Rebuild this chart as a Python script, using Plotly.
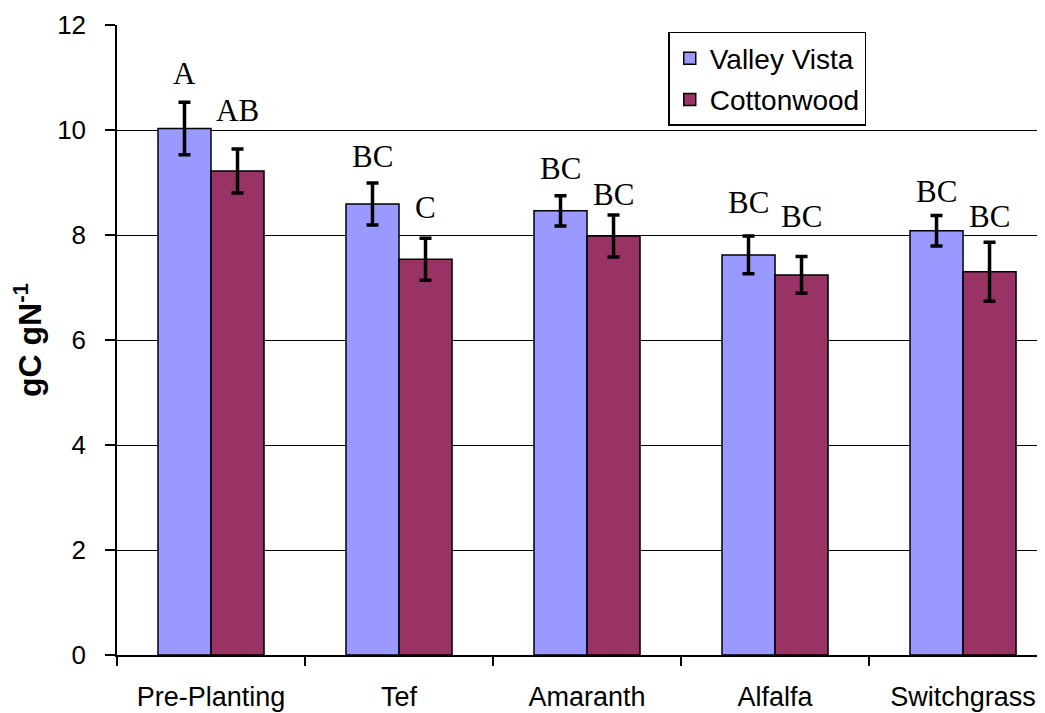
import plotly.graph_objects as go

categories = ["Pre-Planting", "Tef", "Amaranth", "Alfalfa", "Switchgrass"]
valley_vista = [10.03, 8.59, 8.46, 7.62, 8.08]
valley_vista_err = [0.50, 0.40, 0.29, 0.36, 0.29]
cottonwood = [9.22, 7.54, 7.98, 7.24, 7.30]
cottonwood_err = [0.42, 0.40, 0.40, 0.35, 0.56]
vv_letters = ["A", "BC", "BC", "BC", "BC"]
cw_letters = ["AB", "C", "BC", "BC", "BC"]
vv_letter_y = [11.07, 9.49, 9.26, 8.62, 8.83]
cw_letter_y = [10.38, 8.52, 8.78, 8.35, 8.35]
y_ticks = [0, 2, 4, 6, 8, 10, 12]

BARGAP = 0.436
half = (1 - BARGAP) / 4.0

fig = go.Figure()
fig.add_trace(go.Bar(
    name="Valley Vista", x=categories, y=valley_vista, legendgroup="a",
    marker=dict(color="#9999FF", line=dict(color="black", width=1.5)),
    error_y=dict(type="data", array=valley_vista_err, color="black", thickness=3.5, width=6),
))
fig.add_trace(go.Bar(
    name="Cottonwood", x=categories, y=cottonwood, legendgroup="b",
    marker=dict(color="#993366", line=dict(color="black", width=1.5)),
    error_y=dict(type="data", array=cottonwood_err, color="black", thickness=3.5, width=6),
))

annotations = []
for i in range(len(categories)):
    annotations.append(dict(x=i - half, y=vv_letter_y[i], xref="x", yref="y", text=vv_letters[i],
                            showarrow=False, yanchor="middle",
                            font=dict(family="Liberation Serif, Times New Roman, serif", size=31, color="black")))
    annotations.append(dict(x=i + half, y=cw_letter_y[i], xref="x", yref="y", text=cw_letters[i],
                            showarrow=False, yanchor="middle",
                            font=dict(family="Liberation Serif, Times New Roman, serif", size=31, color="black")))

fig.update_layout(
    width=1037, height=705,
    margin=dict(l=109, r=0, t=17, b=58, autoexpand=False),
    paper_bgcolor="white", plot_bgcolor="white",
    barmode="group", bargap=BARGAP, bargroupgap=0,
    font=dict(family="Liberation Sans, Arial, sans-serif", size=26, color="black"),
    showlegend=True,
    legend=dict(x=0.594, y=0.989, xanchor="left", yanchor="top",
                bordercolor="black", borderwidth=1.5, bgcolor="white",
                font=dict(size=28), tracegroupgap=2),
    annotations=annotations,
    xaxis=dict(range=[-0.5, 4.436], showline=True, linecolor="black", linewidth=2,
               ticks="outside", tickson="boundaries", ticklen=9, tickwidth=1.5, tickcolor="black",
               showgrid=False, automargin=False, tickfont=dict(size=27), ticklabelstandoff=17),
    yaxis=dict(range=[0, 12], tickvals=y_ticks, showline=True, linecolor="black", linewidth=1.5,
               ticks="outside", ticklen=10, tickwidth=1.5, tickcolor="black",
               showgrid=True, gridcolor="black", gridwidth=1.2, zeroline=False,
               automargin=False, tickfont=dict(size=26), ticklabelstandoff=14,
               title=dict(text="<b>gC gN<sup>-1</sup></b>", font=dict(size=32), standoff=10)),
)

fig.write_html("out.html")
